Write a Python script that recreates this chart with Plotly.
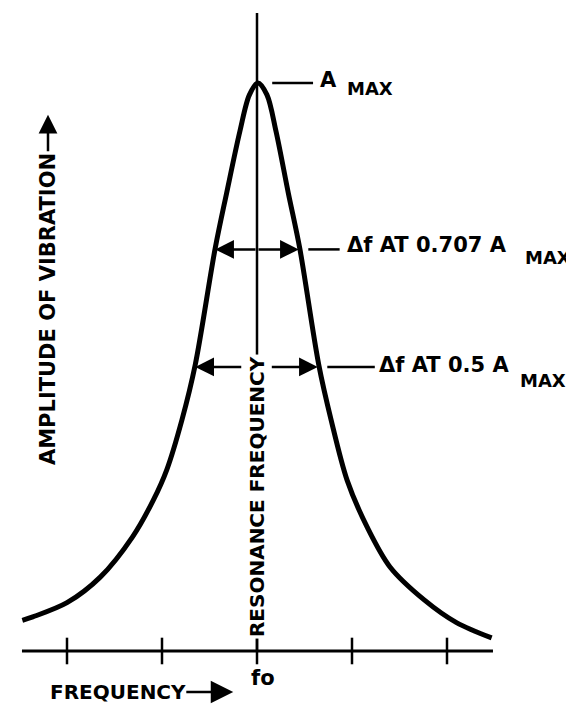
import plotly.graph_objects as go

# resonance curve (frequency in tick units, amplitude as fraction of A max)
freq = [-2.47, -2.36, -2.00, -1.65, -1.31, -1.09, -0.95, -0.79, -0.65, -0.44, -0.32,
        -0.18, -0.08, 0.01, 0.105, 0.20, 0.33, 0.45, 0.65, 0.78, 0.95, 1.16, 1.40,
        1.76, 2.10, 2.47]
amplitude = [0.054, 0.060, 0.085, 0.130, 0.201, 0.266, 0.319, 0.407, 0.504, 0.709, 0.806,
             0.915, 0.979, 1.0, 0.979, 0.915, 0.806, 0.709, 0.504, 0.407, 0.300, 0.218, 0.148,
             0.090, 0.050, 0.023]

tick_vals = [-2, -1, 0, 1, 2]
axis_span = [-2.474, 2.484]
f0_label = "fo"

# bandwidth markers: level and the curve crossings at that level
levels = [0.707, 0.5]
left_cross = [-0.44, -0.65]
right_cross = [0.44, 0.64]
level_text = ["Δf AT 0.707 A", "Δf AT 0.5 A"]

FONT = "DejaVu Sans"
black = "black"

fig = go.Figure()

# frequency axis and the resonance line
fig.add_trace(go.Scatter(x=axis_span, y=[0, 0], mode="lines",
                         line=dict(color=black, width=3), hoverinfo="skip"))
fig.add_trace(go.Scatter(x=[0, 0], y=[0, 1.123], mode="lines",
                         line=dict(color=black, width=2.5), hoverinfo="skip"))

fig.add_trace(go.Scatter(x=freq, y=amplitude, mode="lines",
                         line=dict(color=black, width=5, shape="spline", smoothing=0.9),
                         hoverinfo="skip"))

# tick marks crossing the frequency axis
fig.add_trace(go.Scatter(x=tick_vals, y=[0] * len(tick_vals), mode="markers",
                         marker=dict(symbol="line-ns", size=19,
                                     line=dict(color=black, width=2.5)),
                         cliponaxis=False, hoverinfo="skip"))

# leader lines to the labels
leaders = [
    ([0.16, 0.59], [1.0, 1.0]),
    ([0.54, 0.87], [levels[0], levels[0]]),
    ([0.74, 1.24], [levels[1], levels[1]]),
]
for lx, ly in leaders:
    fig.add_trace(go.Scatter(x=lx, y=ly, mode="lines",
                             line=dict(color=black, width=2.5), hoverinfo="skip"))

def txt(x, y, s, size=21, angle=0, xanchor="left", bg=None):
    fig.add_annotation(x=x, y=y, xref="x", yref="y", text=s, showarrow=False,
                       textangle=angle, xanchor=xanchor, yanchor="middle",
                       font=dict(family=FONT, size=size, color=black, weight="bold"),
                       bgcolor=bg, borderpad=1)

def arrow(x0, y0, x1, y1, size=1.5):
    fig.add_annotation(x=x1, y=y1, ax=x0, ay=y0, xref="x", yref="y",
                       axref="x", ayref="y", text="", showarrow=True,
                       arrowhead=2, arrowsize=size, arrowwidth=2.5,
                       arrowcolor=black, standoff=0, startstandoff=0)

# bandwidth arrows
arrow(0, levels[0], left_cross[0], levels[0])
arrow(0, levels[0], right_cross[0], levels[0])
arrow(-0.15, levels[1], left_cross[1], levels[1])
arrow(0.14, levels[1], right_cross[1], levels[1])

# labels
txt(0.64, 1.005, "A")
txt(0.93, 0.99, "MAX", size=18)
txt(0.93, 0.715, level_text[0])
txt(2.80, 0.692, "MAX", size=18)
txt(1.26, 0.5035, level_text[1])
txt(2.75, 0.477, "MAX", size=18)

txt(0, 0.271, "RESONANCE FREQUENCY", size=20, angle=-90, xanchor="center", bg="white")
txt(-2.2, 0.602, "AMPLITUDE OF VIBRATION", angle=-90, xanchor="center")
arrow(-2.2, 0.877, -2.2, 0.944)

txt(-2.2, -0.072, "FREQUENCY", size=20)
arrow(-0.76, -0.072, -0.25, -0.072, size=1.8)
txt(0.06, -0.0475, f0_label, xanchor="center")

# axes span the whole page (the page sits 8px in from the window corner)
fig.update_layout(
    width=574, height=707,
    margin=dict(l=0, r=0, t=0, b=0),
    plot_bgcolor="white", paper_bgcolor="white",
    showlegend=False,
    xaxis=dict(range=[-2.621, 3.421], visible=False, showgrid=False, zeroline=False),
    yaxis=dict(range=[-0.1127, 1.1320], visible=False, showgrid=False, zeroline=False),
)

fig.write_html("out.html")
